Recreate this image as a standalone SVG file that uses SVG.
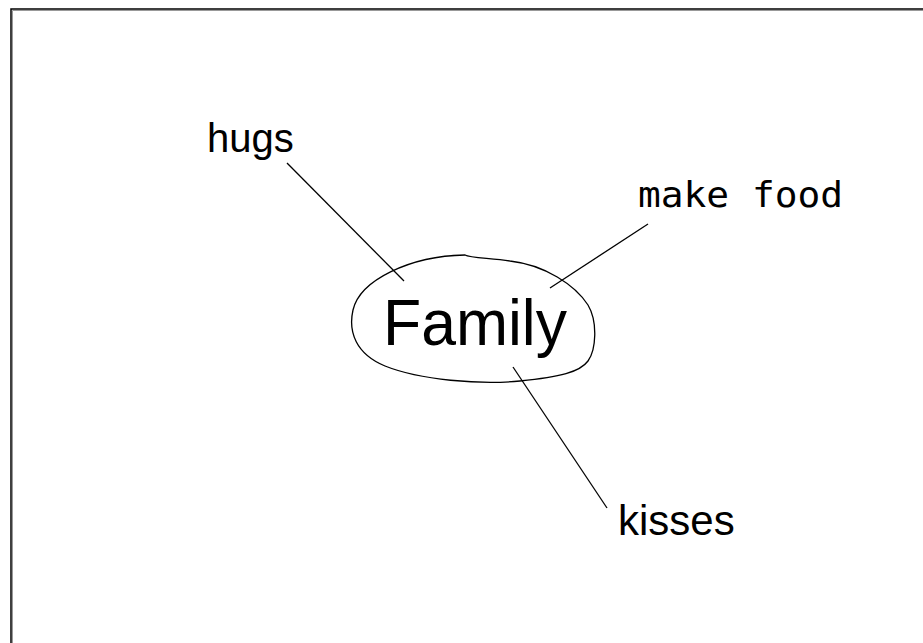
<svg xmlns="http://www.w3.org/2000/svg" width="923" height="643" viewBox="0 0 923 643">
<style>
.lbl{font-family:"Liberation Sans",Arial,sans-serif;fill:#000}
.mono{font-family:"DejaVu Sans Mono","Liberation Mono",monospace;fill:#000}
.ln{stroke:#000;stroke-width:1.3;fill:none}
</style>
<rect width="923" height="643" fill="#fff"/>
<path d="M12.5 643 V10.5 H923" fill="none" stroke="#999" stroke-width="1"/>
<path d="M11 643 V9 H923" fill="none" stroke="#000" stroke-width="1.5"/>
<g id="connectors">
<line class="ln" x1="287" y1="163" x2="404" y2="281"/>
<line class="ln" x1="648" y1="224" x2="550" y2="288"/>
<line class="ln" x1="513" y1="367" x2="607" y2="508"/>
</g>
<g id="family">
<path class="ln" d="M465 255 C470 258 490 258 510 261 C545 265 575 285 588 305 C598 322 596 350 588 361 C580 372 560 377 520 381 C480 385 420 380 385 366 C356 354 348 332 353 310 C360 280 410 256 465 255 Z"/>
<text class="lbl" x="383" y="345" font-size="64" textLength="184" lengthAdjust="spacingAndGlyphs">Family</text>
</g>
<g id="hugs"><text class="lbl" x="207" y="152" font-size="40">hugs</text></g>
<g id="makefood"><text class="mono" x="638" y="207" font-size="35" textLength="205" lengthAdjust="spacingAndGlyphs">make food</text></g>
<g id="kisses"><text class="lbl" x="618" y="535" font-size="42">kisses</text></g>
</svg>
